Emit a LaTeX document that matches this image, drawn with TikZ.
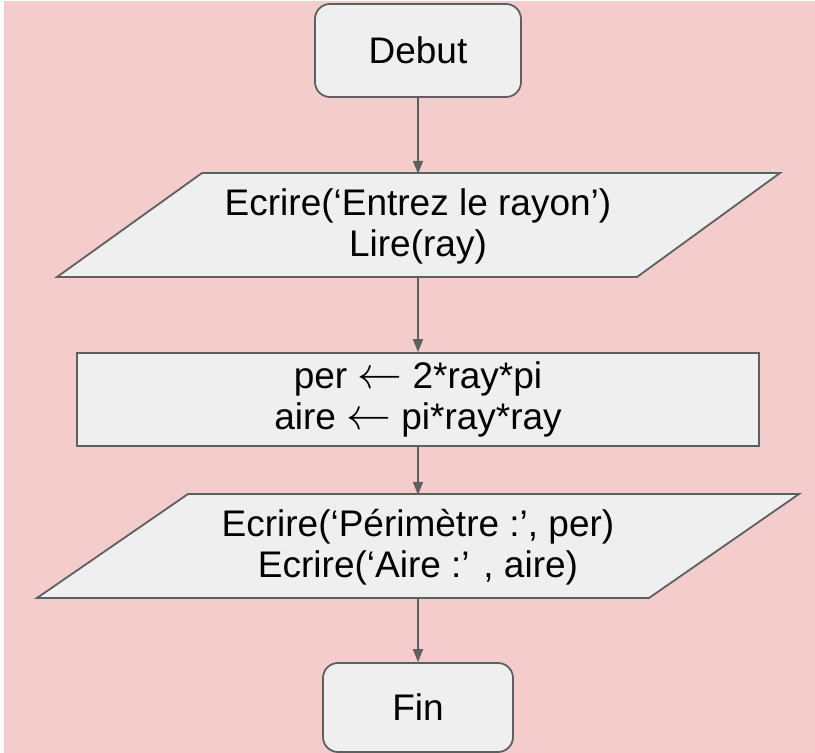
\documentclass[tikz,border=0pt]{standalone}
\usepackage{graphicx}
\usepackage{fontspec}
\setmainfont{Liberation Sans}
\usetikzlibrary{arrows.meta}
\definecolor{bgpink}{HTML}{F4CCCC}
\definecolor{boxfill}{HTML}{EFEFEF}
\definecolor{edge}{HTML}{5F5F5F}
\newcommand{\larr}{\scalebox{1.8}{$\leftarrow$}}
\tikzset{
  lbl/.style={font=\fontsize{37}{41}\selectfont, align=center, text=black, inner sep=0pt},
  roundbox/.style={lbl, draw=edge, fill=boxfill, line width=1.8pt, rounded corners=15pt},
  procbox/.style={lbl, draw=edge, fill=boxfill, line width=1.8pt},
  iobox/.style={lbl, draw=none, minimum height=104pt},
  ioshape/.style={draw=edge, fill=boxfill, line width=1.8pt, line join=miter},
  flow/.style={draw=edge, line width=1.8pt, -{Triangle[length=13pt,width=10pt]}}
}
\begin{document}
\begin{tikzpicture}[x=1pt,y=-1pt]
\useasboundingbox (0,0) rectangle (815,753);
\fill[white] (0,0) rectangle (815,753);
\fill[bgpink] (4,1) rectangle (815,753);

% Parallelogram outlines
\path[ioshape] (57,277) -- (202,173) -- (780,173) -- (637,277) -- cycle;
\path[ioshape] (37,598) -- (188,494) -- (799,494) -- (649,598) -- cycle;

\node[roundbox, minimum width=206pt, minimum height=93pt] (debut) at (418,50.5) {Debut};
\node[iobox, minimum width=560pt] (in) at (418,226) {Ecrire(‘Entrez le rayon’)\\Lire(ray)};
\node[procbox, minimum width=682pt, minimum height=93pt] (calc) at (418,399.5) {per \larr{} 2*ray*pi\\aire \larr{} pi*ray*ray};
\node[iobox, minimum width=600pt] (out) at (418,547) {Ecrire(‘Périmètre :’, per)\\Ecrire(‘Aire :’ , aire)};
\node[roundbox, minimum width=190pt, minimum height=89pt] (fin) at (418,707.5) {Fin};

\draw[flow] (debut.south) -- (in.north);
\draw[flow] (in.south) -- (calc.north);
\draw[flow] (calc.south) -- (out.north);
\draw[flow] (out.south) -- (fin.north);
\end{tikzpicture}
\end{document}
